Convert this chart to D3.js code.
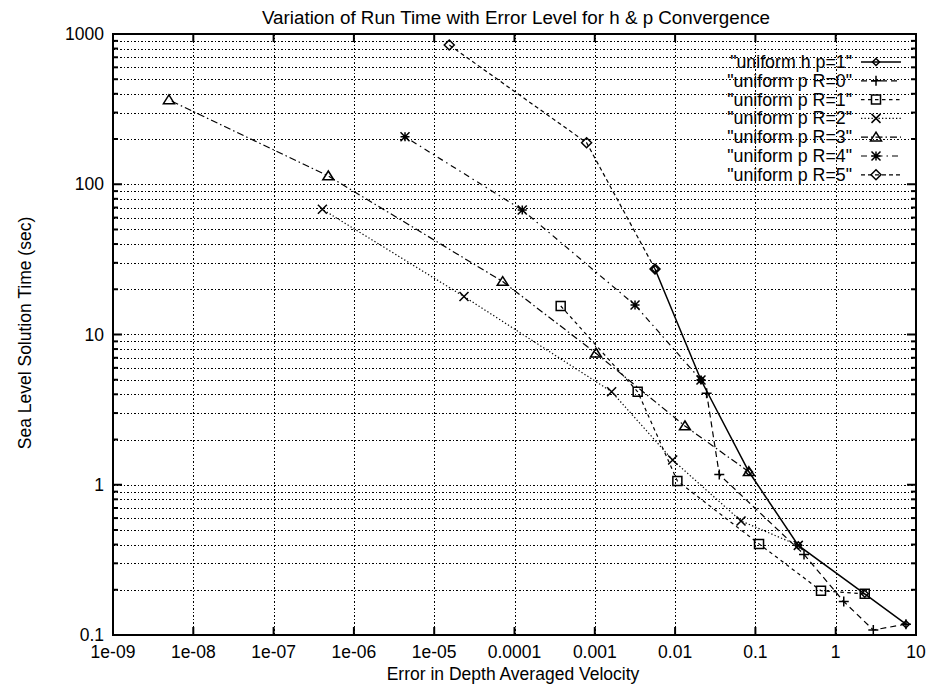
<!DOCTYPE html>
<html>
<head>
<meta charset="utf-8">
<script src="https://cdn.jsdelivr.net/npm/d3@7"></script>
<style>
  body { margin: 0; background: #fff; }
  text { font-family: "Liberation Sans", Arial, Helvetica, sans-serif; fill: #000; }
</style>
</head>
<body>
<svg id="chart"></svg>
<script>
// ── data ─────────────────────────────────────────────────────────────────────
const seriesNames = [
  '"uniform h p=1"', '"uniform p R=0"', '"uniform p R=1"', '"uniform p R=2"',
  '"uniform p R=3"', '"uniform p R=4"', '"uniform p R=5"'
];

const hX  = [0.00562, 0.0210, 0.083, 0.342, 2.30, 7.5];
const hY  = [27.3, 4.98, 1.22, 0.395, 0.188, 0.118];
const r0X = [7.5, 2.94, 1.26, 0.403, 0.0355, 0.0247];
const r0Y = [0.118, 0.108, 0.167, 0.344, 1.17, 4.06];
const r1X = [2.30, 0.656, 0.111, 0.01067, 0.00342, 3.76e-4];
const r1Y = [0.188, 0.197, 0.404, 1.06, 4.16, 15.5];
const r2X = [0.342, 0.0662, 0.00933, 0.00162, 2.35e-5, 4.05e-7];
const r2Y = [0.395, 0.574, 1.46, 4.16, 17.9, 68.1];
const r3X = [0.083, 0.01327, 1.035e-3, 7.13e-5, 4.80e-7, 4.97e-9];
const r3Y = [1.22, 2.46, 7.5, 22.5, 113.5, 364];
const r4X = [0.0210, 0.00317, 1.25e-4, 4.33e-6];
const r4Y = [4.98, 15.7, 67.4, 207];
const r5X = [0.00562, 7.9e-4, 1.54e-5];
const r5Y = [27.3, 189, 845];

const xTicks      = [1e-9, 1e-8, 1e-7, 1e-6, 1e-5, 1e-4, 1e-3, 1e-2, 1e-1, 1, 10];
const xTickLabels = ['1e-09', '1e-08', '1e-07', '1e-06', '1e-05', '0.0001', '0.001', '0.01', '0.1', '1', '10'];
const yTicks      = [0.1, 1, 10, 100, 1000];
const yTickLabels = ['0.1', '1', '10', '100', '1000'];

const titleText  = 'Variation of Run Time with Error Level for h & p Convergence';
const xAxisTitle = 'Error in Depth Averaged Velocity';
const yAxisTitle = 'Sea Level Solution Time (sec)';

// ── layout ───────────────────────────────────────────────────────────────────
const W = 927, H = 684;
const plotL = 113, plotR = 916, plotT = 34, plotB = 635;

const svg = d3.select('#chart').attr('width', W).attr('height', H);

const x = d3.scaleLog().domain([1e-9, 10]).range([plotL, plotR]);
const y = d3.scaleLog().domain([0.1, 1000]).range([plotB, plotT]);

// line style + marker per series
const styles = [
  { dash: null,         width: 1.5, marker: 'hdiamond' },
  { dash: '6,4',        width: 1.2, marker: 'plus' },
  { dash: '3.5,3.5',    width: 1.2, marker: 'square' },
  { dash: '1.3,2.2',    width: 1.2, marker: 'cross' },
  { dash: '7,3,1.5,3',  width: 1.2, marker: 'triangle' },
  { dash: '6,4,1.5,4',  width: 1.2, marker: 'star' },
  { dash: '4,3',        width: 1.2, marker: 'diamond' }
];

const seriesX = [hX, r0X, r1X, r2X, r3X, r4X, r5X];
const seriesY = [hY, r0Y, r1Y, r2Y, r3Y, r4Y, r5Y];
const series = seriesNames.map((name, i) => ({
  name,
  points: seriesX[i].map((v, j) => ({ x: v, y: seriesY[i][j] })),
  ...styles[i]
}));

function markerPath(type) {
  switch (type) {
    case 'hdiamond': { const s = 3.5; return `M0,${-s}L${s},0L0,${s}L${-s},0Z`; }
    case 'diamond':  { const s = 5;   return `M0,${-s}L${s},0L0,${s}L${-s},0Z`; }
    case 'plus':     { const s = 5;   return `M${-s},0H${s}M0,${-s}V${s}`; }
    case 'square':   { const s = 4.5; return `M${-s},${-s}H${s}V${s}H${-s}Z`; }
    case 'cross':    { const s = 4.5; return `M${-s},${-s}L${s},${s}M${-s},${s}L${s},${-s}`; }
    case 'triangle': { const s = 5;   return `M0,${-s}L${s * 1.1},${s * 0.75}L${-s * 1.1},${s * 0.75}Z`; }
    case 'star':     { const s = 4.5; return `M${-s},0H${s}M0,${-s}V${s}M${-s},${-s}L${s},${s}M${-s},${s}L${s},${-s}`; }
  }
}

// ── grid ─────────────────────────────────────────────────────────────────────
const yMinor = [];
for (let e = -1; e < 3; e++) for (let m = 1; m < 10; m++) yMinor.push(m * Math.pow(10, e));
const yGridVals = yMinor.filter(v => v > 0.1 * 1.0001 && v < 1000 * 0.9999);

const grid = svg.append('g').attr('class', 'grid')
  .attr('stroke', '#000').attr('stroke-width', 1).attr('stroke-dasharray', '1.5,2')
  .attr('shape-rendering', 'crispEdges');

grid.selectAll('.gy').data(yGridVals).enter().append('line')
  .attr('x1', plotL).attr('x2', plotR)
  .attr('y1', d => Math.round(y(d)) + 0.5).attr('y2', d => Math.round(y(d)) + 0.5);

grid.selectAll('.gx').data(xTicks.slice(1, -1)).enter().append('line')
  .attr('y1', plotT).attr('y2', plotB)
  .attr('x1', d => Math.round(x(d)) + 0.5).attr('x2', d => Math.round(x(d)) + 0.5);

// ── series lines + markers ───────────────────────────────────────────────────
const line = d3.line().x(d => x(d.x)).y(d => y(d.y));

const plot = svg.append('g').attr('class', 'series');
series.forEach(s => {
  plot.append('path')
    .datum(s.points)
    .attr('d', line)
    .attr('fill', 'none')
    .attr('stroke', '#000')
    .attr('stroke-width', s.width)
    .attr('stroke-dasharray', s.dash);

  plot.append('g').selectAll('path')
    .data(s.points)
    .enter().append('path')
      .attr('d', markerPath(s.marker))
      .attr('transform', d => `translate(${x(d.x)},${y(d.y)})`)
      .attr('fill', 'none')
      .attr('stroke', '#000')
      .attr('stroke-width', 1.5);
});

// ── frame + ticks ────────────────────────────────────────────────────────────
svg.append('rect')
  .attr('x', plotL).attr('y', plotT)
  .attr('width', plotR - plotL).attr('height', plotB - plotT)
  .attr('fill', 'none').attr('stroke', '#000').attr('stroke-width', 2);

const ticks = svg.append('g').attr('stroke', '#000').attr('stroke-width', 2);

// x major ticks (bottom + top, inward)
xTicks.forEach(v => {
  ticks.append('line').attr('x1', x(v)).attr('x2', x(v)).attr('y1', plotB).attr('y2', plotB - 8);
  ticks.append('line').attr('x1', x(v)).attr('x2', x(v)).attr('y1', plotT).attr('y2', plotT + 8);
});

// y ticks: major long, minor short, on both sides
yMinor.concat([1000]).forEach(v => {
  const len = yTicks.includes(v) ? 9 : 5;
  ticks.append('line').attr('x1', plotL).attr('x2', plotL + len).attr('y1', y(v)).attr('y2', y(v));
  ticks.append('line').attr('x1', plotR).attr('x2', plotR - len).attr('y1', y(v)).attr('y2', y(v));
});

// ── tick labels ──────────────────────────────────────────────────────────────
svg.append('g').selectAll('text')
  .data(xTicks)
  .enter().append('text')
    .attr('x', d => x(d))
    .attr('y', 658)
    .attr('text-anchor', 'middle')
    .attr('font-size', '17.5px')
    .text((d, i) => xTickLabels[i]);

svg.append('g').selectAll('text')
  .data(yTicks)
  .enter().append('text')
    .attr('x', 104)
    .attr('y', d => y(d) + 6)
    .attr('text-anchor', 'end')
    .attr('font-size', '17.5px')
    .text((d, i) => yTickLabels[i]);

// ── titles ───────────────────────────────────────────────────────────────────
svg.append('text')
  .attr('x', 516).attr('y', 24)
  .attr('text-anchor', 'middle')
  .attr('font-size', '18.8px')
  .text(titleText);

svg.append('text')
  .attr('x', 513).attr('y', 680)
  .attr('text-anchor', 'middle')
  .attr('font-size', '17.5px')
  .text(xAxisTitle);

svg.append('text')
  .attr('transform', 'translate(31,333) rotate(-90)')
  .attr('text-anchor', 'middle')
  .attr('font-size', '17.5px')
  .text(yAxisTitle);

// ── legend ───────────────────────────────────────────────────────────────────
const legend = svg.append('g').attr('class', 'legend');
series.forEach((s, i) => {
  const cy = 62 + i * 18.8;
  legend.append('text')
    .attr('x', 852).attr('y', cy + 6)
    .attr('text-anchor', 'end')
    .attr('font-size', '17.8px')
    .text(s.name);
  legend.append('line')
    .attr('x1', 861).attr('x2', 901).attr('y1', cy).attr('y2', cy)
    .attr('stroke', '#000')
    .attr('stroke-width', s.width)
    .attr('stroke-dasharray', s.dash);
  legend.append('path')
    .attr('d', markerPath(s.marker))
    .attr('transform', `translate(876,${cy})`)
    .attr('fill', 'none')
    .attr('stroke', '#000')
    .attr('stroke-width', 1.5);
});
</script>
</body>
</html>
